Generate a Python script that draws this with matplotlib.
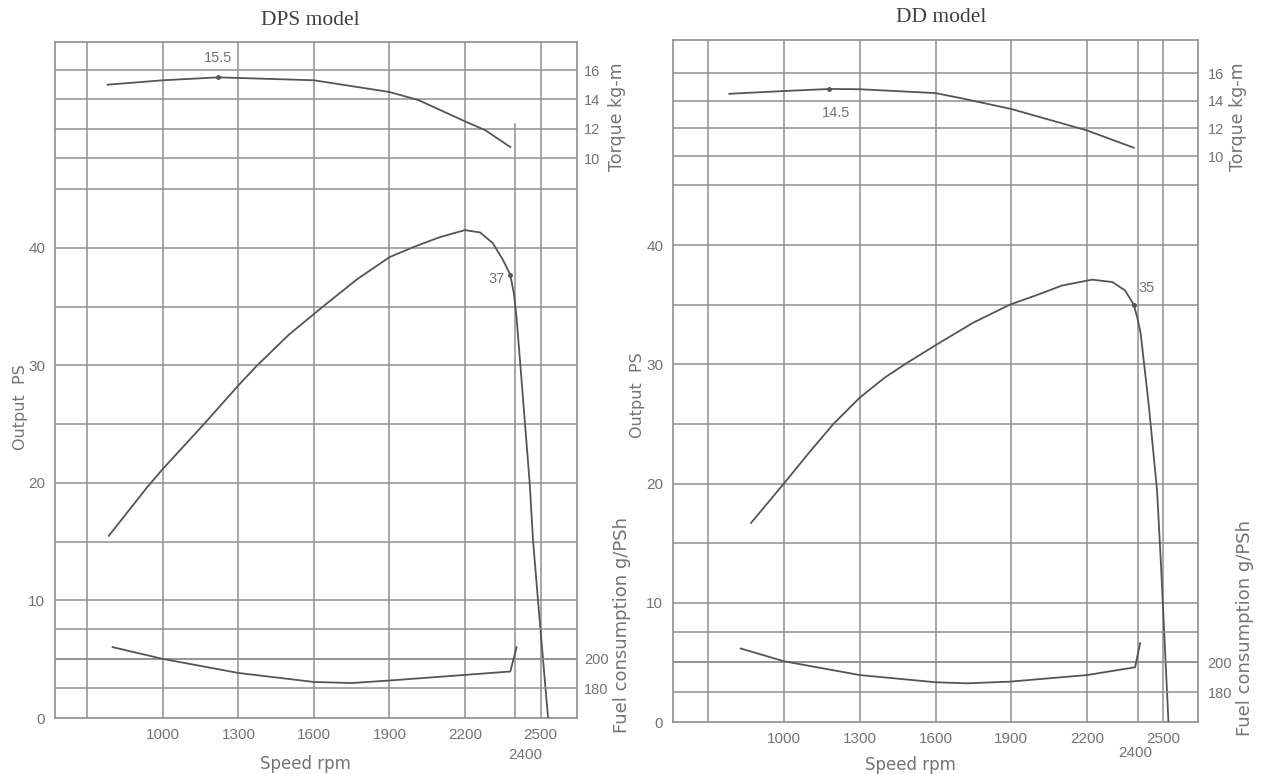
"""
Engine performance curves for the DPS and DD models.
"""

import matplotlib
matplotlib.use("Agg")
import matplotlib.pyplot as plt
from matplotlib import transforms

# ---- DPS model ----
dps_torque_rpm = [780, 1000, 1220, 1600, 1900, 2015, 2200, 2280, 2380]
dps_torque = [15.0, 15.3, 15.5, 15.3, 14.5, 13.95, 12.5, 11.9, 10.75]

dps_output_rpm = [785, 936, 1000, 1163, 1300, 1370, 1500, 1636, 1770, 1900,
                  2000, 2100, 2200, 2260, 2310, 2350, 2380, 2395, 2405, 2420,
                  2457, 2470, 2490, 2530]
dps_output = [15.5, 19.6, 21.2, 25, 28.3, 29.9, 32.6, 35, 37.3, 39.2,
              40.1, 40.9, 41.5, 41.3, 40.4, 39.0, 37.7, 36.0, 34.0, 30,
              20, 15.2, 10, 0]

dps_fuel_rpm = [800, 1000, 1300, 1600, 1750, 1900, 2200, 2380, 2405]
dps_fuel = [208, 200, 190.5, 184.4, 183.7, 185.4, 189.2, 191.5, 208]

# ---- DD model ----
dd_torque_rpm = [784, 1000, 1180, 1300, 1600, 1710, 1900, 2200, 2385]
dd_torque = [14.5, 14.7, 14.85, 14.83, 14.55, 14.15, 13.4, 11.85, 10.6]

dd_output_rpm = [870, 1000, 1100, 1196, 1300, 1400, 1486, 1600, 1750, 1894,
                 2000, 2100, 2220, 2300, 2350, 2385, 2400, 2412, 2445, 2477,
                 2493, 2522]
dd_output = [16.7, 20, 22.6, 25, 27.2, 28.9, 30.1, 31.6, 33.5, 35,
             35.8, 36.6, 37.1, 36.9, 36.2, 35.0, 33.8, 32.6, 26.4, 19.4,
             13.0, 0]

dd_fuel_rpm = [829, 1000, 1300, 1600, 1725, 1894, 2200, 2390, 2410]
dd_fuel = [209, 200.5, 191.3, 186.5, 185.8, 186.9, 191.3, 196.5, 212.5]

# annotated values (rpm, value, text)
dps_torque_note = (1220, 15.5, "15.5")
dps_output_note = (2380, 37.7, "37")
dd_torque_note = (1180, 14.85, "14.5")
dd_output_note = (2385, 35.0, "35")

speed_ticks = [1000, 1300, 1600, 1900, 2200, 2500]
speed_grid = [700, 1000, 1300, 1600, 1900, 2200, 2400, 2500]
output_ticks = [0, 10, 20, 30, 40]
output_grid = [5, 10, 15, 20, 25, 30, 35, 40, 45]
torque_ticks = [10, 12, 14, 16]
fuel_ticks = [180, 200]
fuel_grid = [180, 200, 220]

W, H = 1270, 774
GRID = "#8f8f8f"
LINE = "#555555"
TXT = "#747474"
SANS = ["Liberation Sans", "DejaVu Sans"]
LAB = ["DejaVu Sans"]

fig = plt.figure(figsize=(W / 100, H / 100), dpi=100)


def px_axes(box):
    l, t, r, b = box
    return fig.add_axes([l / W, 1 - b / H, (r - l) / W, (b - t) / H])


def panel(cfg, torque_rpm, torque, out_rpm, out, fuel_rpm, fuel, t_note, o_note):
    ax = px_axes(cfg["box"])
    ax.set_ylim(0, cfg["ps_top"])
    ax_t = ax.twinx()
    ax_t.set_ylim(*cfg["torque_lim"])
    ax_f = ax.twinx()
    ax_f.set_ylim(*cfg["fuel_lim"])

    for a in (ax, ax_t, ax_f):
        a.set_xlim(*cfg["xlim"])
        a.set_facecolor("none")

    # grid
    for x in speed_grid:
        top = cfg["ps_top"]
        if x == 2400 and cfg.get("cut2400"):
            top = cfg["cut2400"]
        ax.plot([x, x], [0, top], color=GRID, lw=1.1, zorder=1)
    for y in output_grid:
        ax.axhline(y, color=GRID, lw=1.1, zorder=1)
    for y in torque_ticks:
        ax_t.axhline(y, color=GRID, lw=1.1, zorder=1)
    for y in fuel_grid:
        ax_f.axhline(y, color=GRID, lw=1.1, zorder=1)

    # curves
    ax.plot(out_rpm, out, color=LINE, lw=1.3, zorder=3)
    ax_t.plot(torque_rpm, torque, color=LINE, lw=1.3, zorder=3)
    ax_f.plot(fuel_rpm, fuel, color=LINE, lw=1.3, zorder=3)

    # frame
    for s in ax.spines.values():
        s.set_color(GRID)
        s.set_linewidth(1.2)
    for a in (ax_t, ax_f):
        for s in a.spines.values():
            s.set_visible(False)

    ax.set_xticks(speed_ticks)
    ax.set_xticklabels([str(v) for v in speed_ticks])
    ax.set_yticks(output_ticks)
    ax.tick_params(length=0, colors=TXT, labelsize=11, pad=7)
    ax_t.set_yticks(torque_ticks)
    ax_t.tick_params(length=0, colors=TXT, labelsize=10.5, pad=cfg["rpad"])
    ax_f.set_yticks(fuel_ticks)
    ax_f.tick_params(length=0, colors=TXT, labelsize=10.5, pad=cfg["rpad"])
    for a in (ax, ax_t, ax_f):
        for lab in a.get_xticklabels() + a.get_yticklabels():
            lab.set_family(SANS)

    trans = transforms.blended_transform_factory(ax.transData, ax.transAxes)
    ax.text(cfg["x2400"], cfg["y2400"], "2400", transform=trans, ha="center",
            va="center", color=TXT, fontsize=11, family=SANS)

    ax.set_xlabel("Speed rpm", color=TXT, fontsize=12, family=LAB)
    ax.xaxis.set_label_coords(*cfg["xlab"])
    ax.set_ylabel("Output  PS", color=TXT, fontsize=11.5, family=LAB)
    ax.yaxis.set_label_coords(*cfg["ylab"])
    ax_t.set_ylabel("Torque kg-m", color=TXT, fontsize=12.5, family=LAB)
    ax_t.yaxis.set_label_coords(*cfg["tlab"])
    ax_f.set_ylabel("Fuel consumption g/PSh", color=TXT, fontsize=13, family=LAB)
    ax_f.yaxis.set_label_coords(*cfg["flab"])

    ax.set_title(cfg["title"], family=["Liberation Serif"], fontsize=15.5,
                 color="#404040", x=cfg["title_x"], pad=cfg["title_pad"])

    # annotations
    x, y, s = t_note
    ax_t.plot([x], [y], "o", ms=2.5, color=LINE, zorder=4)
    ax_t.annotate(s, (x, y), xytext=cfg["t_off"], textcoords="offset points",
                  ha="center", va="center", color=TXT, fontsize=10.5, family=SANS)
    x, y, s = o_note
    ax.plot([x], [y], "o", ms=2.5, color=LINE, zorder=4)
    ax.annotate(s, (x, y), xytext=cfg["o_off"], textcoords="offset points",
                ha="center", va="center", color=TXT, fontsize=10.5, family=SANS)


dps_cfg = dict(box=(55, 42, 577, 718), xlim=(571, 2645), ps_top=57.5,
               torque_lim=(-28.18, 17.91), fuel_lim=(160, 618), cut2400=50.5,
               rpad=5, x2400=2440, y2400=-0.055, xlab=(0.48, -0.055),
               ylab=(-0.052, 0.46), tlab=(1.059, 0.89), flab=(1.069, 0.138),
               title="DPS model", title_x=0.49, title_pad=12,
               t_off=(0, 14), o_off=(-10, -3))
dd_cfg = dict(box=(673, 40, 1198, 722), xlim=(561, 2639), ps_top=57.2,
              torque_lim=(-30.92, 18.39), fuel_lim=(160, 614.7), cut2400=None,
              rpad=7, x2400=2390, y2400=-0.046, xlab=(0.453, -0.05),
              ylab=(-0.053, 0.48), tlab=(1.059, 0.887), flab=(1.072, 0.138),
              title="DD model", title_x=0.51, title_pad=13,
              t_off=(5, -17), o_off=(9, 12))

panel(dps_cfg, dps_torque_rpm, dps_torque, dps_output_rpm, dps_output,
      dps_fuel_rpm, dps_fuel, dps_torque_note, dps_output_note)
panel(dd_cfg, dd_torque_rpm, dd_torque, dd_output_rpm, dd_output,
      dd_fuel_rpm, dd_fuel, dd_torque_note, dd_output_note)

fig.savefig("out.png", dpi=100)
